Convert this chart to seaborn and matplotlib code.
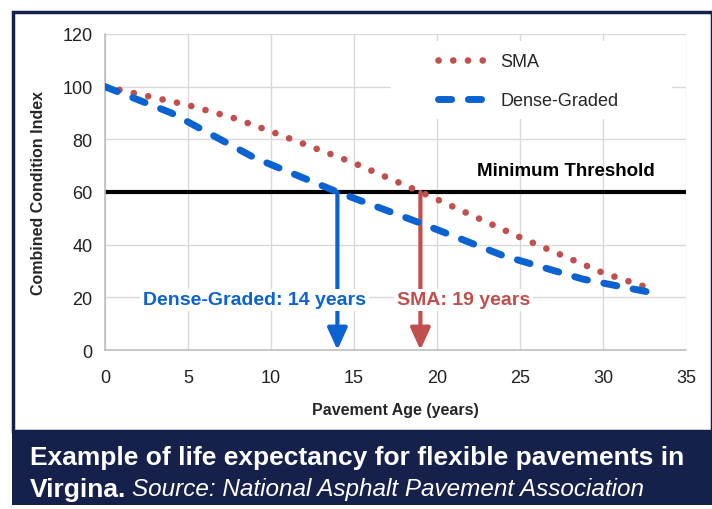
import matplotlib
matplotlib.use('Agg')
import matplotlib.pyplot as plt
import seaborn as sns
import pandas as pd
from matplotlib.patches import Rectangle

# data
sma_age = [0, 5, 7.8, 10, 15, 19, 20, 25, 30, 32.7]
sma_cci = [100, 93, 88, 83, 71, 60, 57.2, 42.8, 29.3, 23.7]
dense_age = [0, 4, 9, 14, 19, 24, 28.8, 32.6]
dense_cci = [100, 90, 73, 60, 48.2, 35.8, 26.9, 22.2]
threshold = 60
life_years = {'Dense-Graded': 14, 'SMA': 19}

RED = '#c0504d'
BLUE = '#0b63d1'
NAVY = '#16214b'

sns.set_theme(style='whitegrid')
plt.rcParams['font.family'] = ['Liberation Sans', 'DejaVu Sans']

df = pd.concat([
    pd.DataFrame({'age': sma_age, 'cci': sma_cci, 'mix': 'SMA'}),
    pd.DataFrame({'age': dense_age, 'cci': dense_cci, 'mix': 'Dense-Graded'}),
])

fig = plt.figure(figsize=(7.12, 5.10), dpi=100)
fig.patch.set_facecolor('white')

# frame and caption band
fig.add_artist(Rectangle((13 / 712, 1 - 432 / 510), 699 / 712, 419 / 510,
                         transform=fig.transFigure, facecolor='white',
                         edgecolor=NAVY, lw=2.5, zorder=0))
fig.add_artist(Rectangle((12 / 712, 1 - 506 / 510), 700 / 712, 74 / 510,
                         transform=fig.transFigure, facecolor=NAVY,
                         edgecolor='none', zorder=0))

ax = fig.add_axes([105 / 712, 1 - 351 / 510, 581 / 712, 316 / 510])
ax.set_facecolor('none')

sns.lineplot(data=df, x='age', y='cci', hue='mix', style='mix',
             palette={'SMA': RED, 'Dense-Graded': BLUE},
             dashes={'SMA': (0.01, 2.2), 'Dense-Graded': (1.9, 2.4)},
             linewidth=4.8, ax=ax, zorder=3, legend=False)
ax.lines[0].set_linewidth(4.8)
ax.lines[1].set_linewidth(5.0)
for ln in ax.lines:
    ln.set_dash_capstyle('round')

ax.axhline(threshold, color='black', lw=3, zorder=2)
ax.text(33.1, 68, 'Minimum Threshold', ha='right', va='center',
        fontsize=13.5, fontweight='bold', color='black')

# life expectancy arrows
for name, color, tx in [('Dense-Graded', BLUE, 9.0), ('SMA', RED, 21.6)]:
    yr = life_years[name]
    ax.annotate('', xy=(yr, 0), xytext=(yr, threshold),
                arrowprops=dict(arrowstyle='-|>,head_length=1.1,head_width=0.5',
                                color=color, lw=3, shrinkA=0, shrinkB=0),
                zorder=2)
    ax.text(tx, 19, f'{name}: {yr} years', ha='center', va='center',
            fontsize=14, fontweight='bold', color=color, zorder=4,
            bbox=dict(facecolor='white', edgecolor='none', pad=2))

ax.set_xlim(0, 35)
ax.set_ylim(0, 120)
ax.set_xticks(range(0, 36, 5))
ax.set_yticks(range(0, 121, 20))
ax.tick_params(labelsize=13, colors='#222222', length=0)
ax.tick_params(axis='x', pad=14)
ax.tick_params(axis='y', pad=9)
ax.grid(color='#d9d9d9', lw=1)
for side in ['top', 'right']:
    ax.spines[side].set_visible(False)
for side in ['left', 'bottom']:
    ax.spines[side].set_color('#bfbfbf')
    ax.spines[side].set_linewidth(1.2)

ax.set_xlabel('Pavement Age (years)', fontsize=11.5, fontweight='bold', labelpad=11)
ax.set_ylabel('Combined Condition Index', fontsize=11.5, fontweight='bold', labelpad=12)

# legend on a white patch that hides the grid behind it
ax.add_patch(Rectangle((17.2, 87.7), 16.95, 29.7, facecolor='white',
                       edgecolor='none', zorder=1.5))
handles = ax.lines[:2]
leg = fig.legend(handles, ['SMA', 'Dense-Graded'], loc='center left',
                 bbox_to_anchor=(438 / 712, 1 - 82 / 510), fontsize=13,
                 handlelength=2.9, handletextpad=0.55, labelspacing=1.2,
                 frameon=False, borderpad=0, borderaxespad=0)

# caption
fig.text(30 / 712, 1 - 458 / 510, 'Example of life expectancy for flexible pavements in',
         color='white', fontsize=19, fontweight='bold', va='center')
t1 = fig.text(30 / 712, 1 - 490 / 510, 'Virgina.', color='white', fontsize=19,
              fontweight='bold', va='center')
fig.canvas.draw()
bb = t1.get_window_extent()
fig.text(bb.x1 / fig.bbox.width + 6 / 712, 1 - 490 / 510,
         'Source: National Asphalt Pavement Association', color='white',
         fontsize=17.5, fontstyle='italic', va='center')

fig.savefig('out.png', dpi=100)
